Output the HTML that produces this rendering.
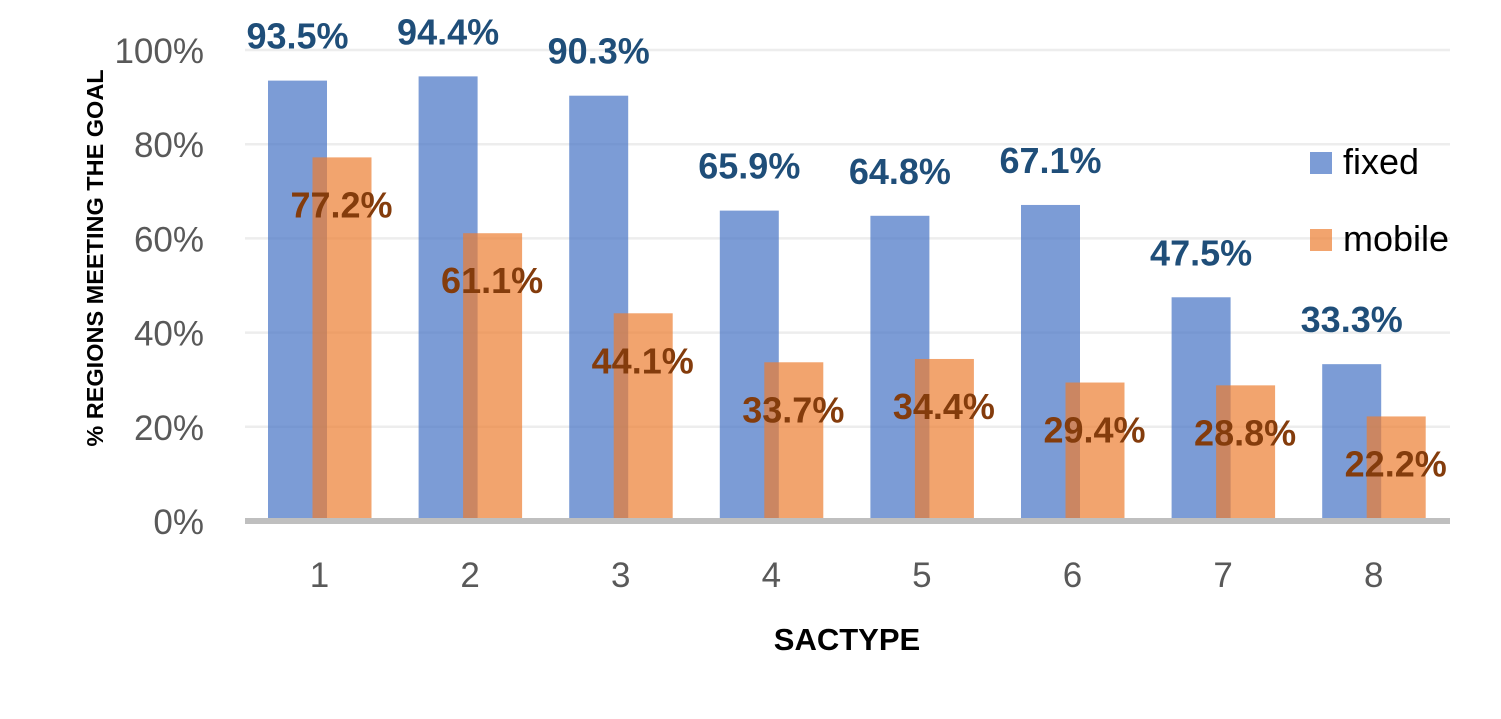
<!DOCTYPE html>
<html><head><meta charset="utf-8"><style>
html,body{margin:0;padding:0;background:#fff;}
svg{display:block;font-family:"Liberation Sans",Arial,sans-serif;}
</style></head><body>
<svg id="chart" width="1501" height="719" viewBox="0 0 1501 719">
<g id="grid"></g>
<g id="yticks"></g>
<g id="bars"></g>
<line x1="245" y1="521" x2="1450" y2="521" stroke="#BFBFBF" stroke-width="6"/>
<g id="xticks"></g>
<g id="labels"></g>
<text x="847" y="650" text-anchor="middle" font-size="31" font-weight="bold" fill="#000">SACTYPE</text>
<text transform="translate(103,258) rotate(-90)" text-anchor="middle" font-size="23.5" font-weight="bold" fill="#000">%  REGIONS MEETING THE GOAL</text>
<g>
<g><rect x="1310" y="152" width="22" height="22" fill="#4472C4" fill-opacity="0.7"/><text x="1343" y="174" font-size="36" fill="#000">fixed</text></g>
<g><rect x="1310" y="229" width="22" height="22" fill="#ED7D31" fill-opacity="0.7"/><text x="1343" y="251" font-size="36" fill="#000">mobile</text></g>
</g>
</svg>
<script>
const categories = ["1","2","3","4","5","6","7","8"];
const fixedVals = [93.5,94.4,90.3,65.9,64.8,67.1,47.5,33.3];
const mobileVals = [77.2,61.1,44.1,33.7,34.4,29.4,28.8,22.2];
const yTicks = [0,20,40,60,80,100];
const NS="http://www.w3.org/2000/svg";
const y0=521, y100=50;
function yScale(v){return y0-(y0-y100)*v/100;}
function xCenter(i){return 319.5+i*150.6;}
function mk(tag,attrs,parent){const e=document.createElementNS(NS,tag);for(const k in attrs)e.setAttribute(k,attrs[k]);parent.appendChild(e);return e;}
const grid=document.getElementById('grid'),yt=document.getElementById('yticks'),bars=document.getElementById('bars'),xt=document.getElementById('xticks'),labels=document.getElementById('labels');
yTicks.forEach(t=>{
 if(t>0){const l=mk('line',{x1:245,x2:1450,y1:yScale(t),y2:yScale(t),stroke:'#EDEDED','stroke-width':2.5},grid);
 
 }
 const tx=mk('text',{x:204,y:yScale(t)+13,'text-anchor':'end','font-size':35,fill:'#595959'},yt);
 tx.textContent=t+'%';
 
 
});
const bw=59;
const barBase=518;
categories.forEach((c,i)=>{
 const cx=xCenter(i);
 const fb=mk('rect',{x:cx-22-bw/2,y:yScale(fixedVals[i]),width:bw,height:barBase-yScale(fixedVals[i]),fill:'#4472C4','fill-opacity':0.7},bars);
 
 
 const mb=mk('rect',{x:cx+22.5-bw/2,y:yScale(mobileVals[i]),width:bw,height:barBase-yScale(mobileVals[i]),fill:'#ED7D31','fill-opacity':0.7},bars);
 
 
 const xl=mk('text',{x:cx,y:587,'text-anchor':'middle','font-size':35,fill:'#595959'},xt);
 xl.textContent=c;
 
 
 const fl=mk('text',{x:cx-22,y:yScale(fixedVals[i])-32,'text-anchor':'middle','font-size':36,'font-weight':'bold',fill:'#1F4E79'},labels);
 fl.textContent=fixedVals[i].toFixed(1)+'%';
 
 
 const ml=mk('text',{x:cx+22,y:yScale(mobileVals[i])+60,'text-anchor':'middle','font-size':36,'font-weight':'bold',fill:'#843C0C'},labels);
 ml.textContent=mobileVals[i].toFixed(1)+'%';
 
 
});
</script>
</body></html>
